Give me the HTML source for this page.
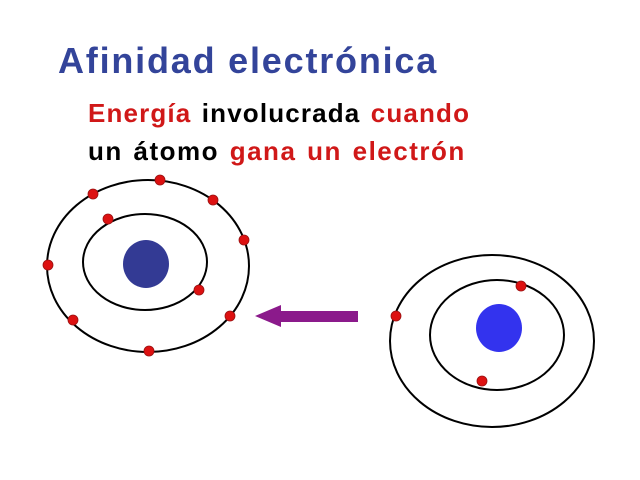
<!DOCTYPE html>
<html><head><meta charset="utf-8"><style>
body{margin:0;width:640px;height:480px;background:#fff;overflow:hidden;position:relative;font-family:"Liberation Sans",sans-serif;font-weight:bold}
.t{position:absolute;white-space:nowrap}
.r{color:#d01818}
</style></head><body>
<div class="t" style="left:58px;top:40px;font-size:36px;color:#33449a;letter-spacing:1.8px">Afinidad electrónica</div>
<div class="t" style="left:88px;top:98px;font-size:26px;color:#000;letter-spacing:1.15px;word-spacing:2px"><span class="r">Energía</span> involucrada <span class="r">cuando</span></div>
<div class="t" style="left:88px;top:136px;font-size:26px;color:#000;letter-spacing:1.5px;word-spacing:2px">un átomo <span class="r">gana un electrón</span></div>
<svg width="640" height="480" style="position:absolute;left:0;top:0">
<g fill="none" stroke="#000" stroke-width="2">
<ellipse cx="148" cy="266" rx="101" ry="86"/>
<ellipse cx="145" cy="262" rx="62" ry="48"/>
<ellipse cx="492" cy="341" rx="102" ry="86"/>
<ellipse cx="497" cy="335" rx="67" ry="55"/>
</g>
<ellipse cx="146" cy="264" rx="23" ry="24" fill="#333a94"/>
<ellipse cx="499" cy="328" rx="23" ry="24" fill="#3333ee"/>
<g fill="#dd1111" stroke="#991111" stroke-width="0.8">
<circle cx="160" cy="180" r="5"/><circle cx="93" cy="194" r="5"/><circle cx="213" cy="200" r="5"/>
<circle cx="244" cy="240" r="5"/><circle cx="48" cy="265" r="5"/><circle cx="73" cy="320" r="5"/>
<circle cx="149" cy="351" r="5"/><circle cx="230" cy="316" r="5"/><circle cx="108" cy="219" r="5"/>
<circle cx="199" cy="290" r="5"/>
<circle cx="521" cy="286" r="5"/><circle cx="482" cy="381" r="5"/><circle cx="396" cy="316" r="5"/>
</g>
<polygon points="255,316 281,305 281,311 358,311 358,322 281,322 281,327" fill="#8b1a8b"/>
</svg>
</body></html>
